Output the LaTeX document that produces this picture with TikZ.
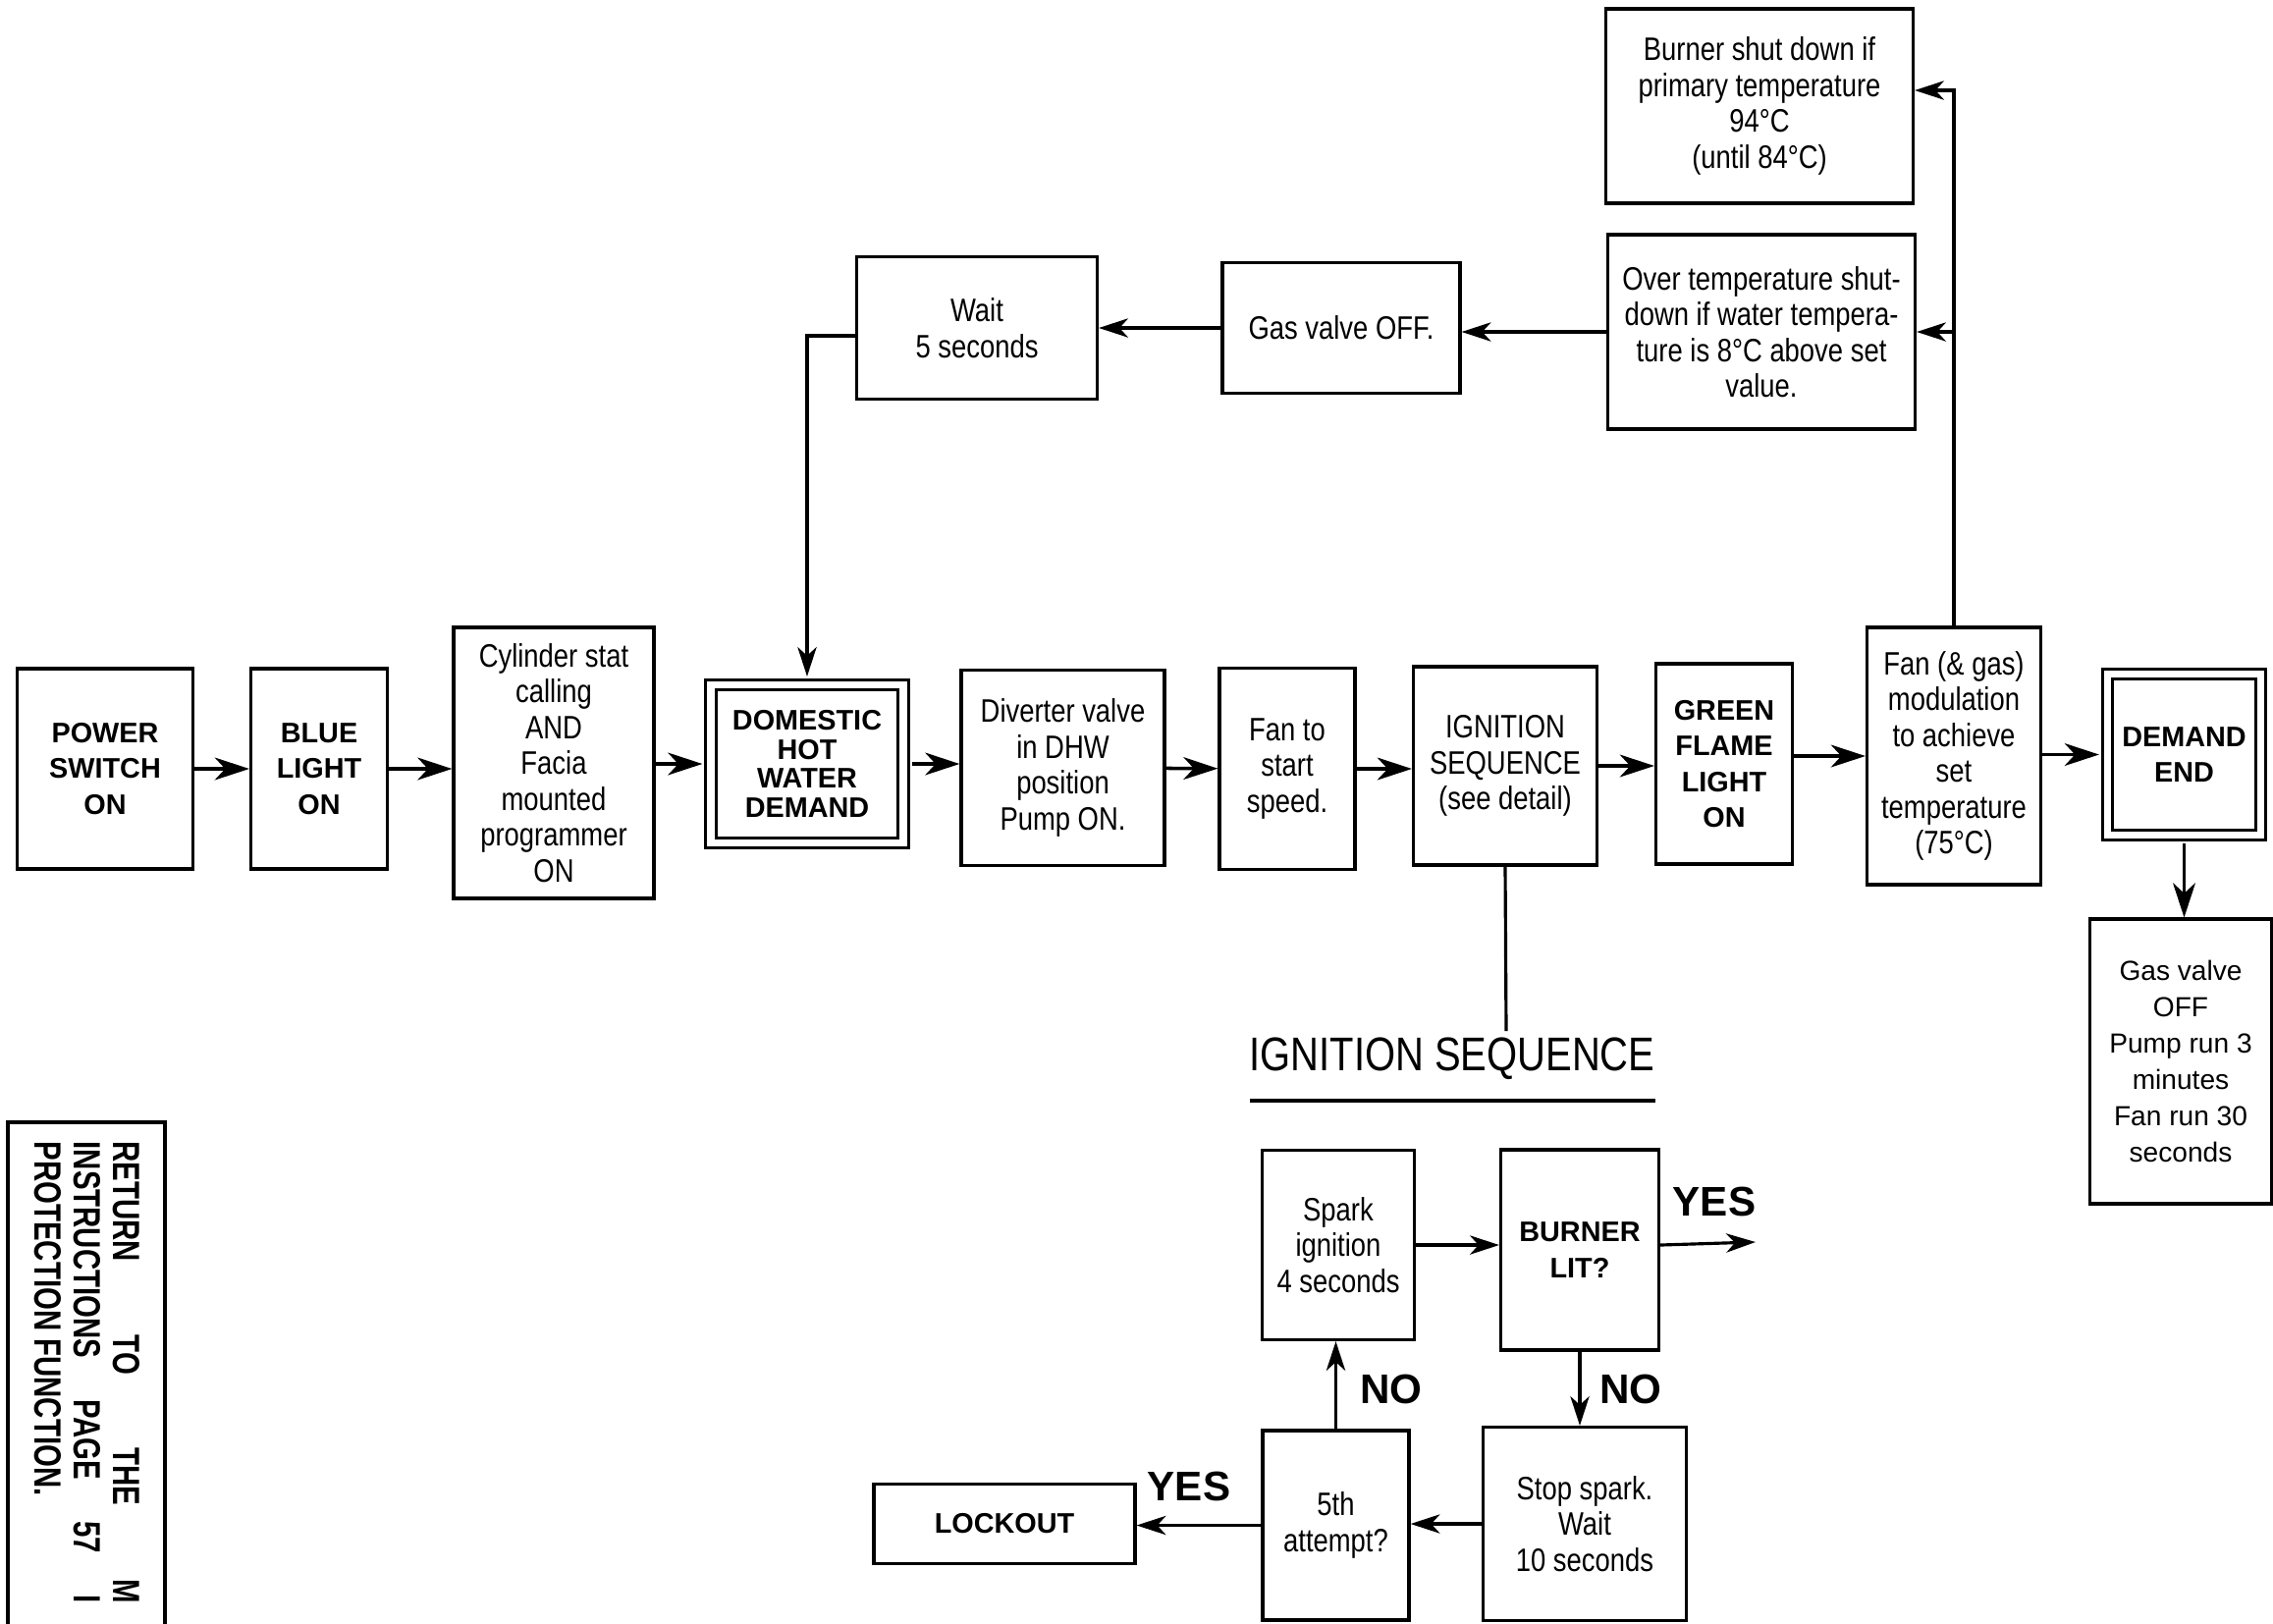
\documentclass[tikz,border=0pt]{standalone}
\usepackage{fontspec}
\setmainfont{Liberation Sans}
\newfontfamily\narrowfont{Liberation Sans}[FakeStretch=0.83]
\newfontfamily\notefont{Liberation Sans}[FakeStretch=0.76]
\usetikzlibrary{arrows.meta}

\begin{document}
\begin{tikzpicture}[
  box/.style={draw, line width=0.9pt, align=center, inner sep=1pt, font=\narrowfont\fontsize{9.4}{10.4}\selectfont},
  bbox/.style={box, font=\bfseries\fontsize{8.2}{10.4}\selectfont},
  dbox/.style={bbox, double, double distance=2pt},
  wh/.style 2 args={minimum width=#1cm, minimum height=#2cm},
  flow/.style={-{Stealth[length=10pt, width=6.5pt, inset=3pt]}, line width=1pt},
  link/.style={-{Stealth[length=8.5pt, width=5.5pt, inset=2.5pt]}, line width=0.9pt},
  tag/.style={font=\bfseries\fontsize{12}{12}\selectfont, inner sep=0pt}
]
  \useasboundingbox[fill=white] (0,0) rectangle (23.15,-16.53);

  % main sequence
  \node[bbox, wh={1.79}{2.04}] (power) at (1.07,-7.83) {POWER\\SWITCH\\ON};
  \node[bbox, wh={1.39}{2.04}] (blue) at (3.25,-7.83) {BLUE\\LIGHT\\ON};
  \node[box, wh={2.04}{2.76}] (cyl) at (5.64,-7.77) {Cylinder stat\\calling\\AND\\Facia\\mounted\\programmer\\ON};
  \node[dbox, wh={1.96}{1.61}, font=\bfseries\fontsize{8.2}{8.4}\selectfont] (dhw) at (8.22,-7.78) {DOMESTIC\\HOT\\WATER\\DEMAND};
  \node[box, wh={2.07}{1.99}] (diverter) at (10.825,-7.82) {Diverter valve\\in DHW\\position\\Pump ON.};
  \node[box, wh={1.38}{2.05}] (fanstart) at (13.11,-7.83) {Fan to\\start\\speed.};
  \node[box, wh={1.87}{2.02}] (ignbox) at (15.33,-7.80) {IGNITION\\SEQUENCE\\(see detail)};
  \node[bbox, wh={1.39}{2.04}] (green) at (17.56,-7.78) {GREEN\\FLAME\\LIGHT\\ON};
  \node[box, wh={1.77}{2.62}] (fanmod) at (19.90,-7.70) {Fan (\& gas)\\modulation\\to achieve\\set\\temperature\\(75°C)};
  \node[dbox, wh={1.56}{1.64}] (dend) at (22.245,-7.685) {DEMAND\\END};
  \node[box, wh={1.85}{2.90}, font=\fontsize{8}{10.5}\selectfont] (gasoff) at (22.21,-10.81) {Gas valve\\OFF\\Pump run 3\\minutes\\Fan run 30\\seconds};

  \draw[flow] (power) -- (blue);
  \draw[flow] (blue) -- (cyl.west |- blue.east);
  \draw[flow, shorten >=2pt] (cyl.east |- dhw.west) -- (dhw.west);
  \draw[flow] ([xshift=2pt]dhw.east) -- (dhw.east -| diverter.west);
  \draw[flow] (diverter) -- (fanstart);
  \draw[flow] (fanstart) -- (fanstart.east -| ignbox.west);
  \draw[flow] (ignbox) -- (ignbox.east -| green.west);
  \draw[flow] (fanmod.west -| green.east) -- (fanmod.west);
  \draw[flow, shorten >=2pt] (dend.west -| fanmod.east) -- (dend.west);
  \draw[flow] ([yshift=-2pt]dend.south) -- (dend.south |- gasoff.north);

  % over temperature branch
  \node[box, wh={3.13}{1.98}] (burner) at (17.92,-1.08) {Burner shut down if\\primary temperature\\94°C\\(until 84°C)};
  \node[box, wh={3.13}{1.98}] (overtemp) at (17.94,-3.38) {Over temperature shut-\\down if water tempera-\\ture is 8°C above set\\value.};
  \node[box, wh={2.42}{1.33}] (gasvalve) at (13.66,-3.34) {Gas valve OFF.};
  \node[box, wh={2.45}{1.45}] (wait) at (9.95,-3.34) {Wait\\5 seconds};

  \draw[link] (fanmod.north) |- ([yshift=0.16cm]burner.east);
  \draw[link] (fanmod.north |- overtemp.east) -- (overtemp.east);
  \draw[link] (overtemp.west) -- (overtemp.west -| gasvalve.east);
  \draw[link] (gasvalve.west) -- (gasvalve.west -| wait.east);
  \draw[link, shorten >=2pt] ([yshift=-0.08cm]wait.west) -| (dhw.north);

  % ignition sequence detail
  \coordinate (ignend) at (15.34,-10.50);
  \draw[line width=0.9pt] (ignbox.south) -- (ignend);
  \node[font=\narrowfont\fontsize{13.7}{13.7}\selectfont] (igntitle) at (14.79,-10.78) {IGNITION SEQUENCE};
  \draw[line width=1pt] (12.73,-11.21) -- (16.86,-11.21);

  \node[box, wh={1.55}{1.93}] (spark) at (13.63,-12.68) {Spark\\ignition\\4 seconds};
  \node[bbox, wh={1.61}{2.04}] (burnerlit) at (16.09,-12.73) {BURNER\\LIT?};
  \node[box, wh={2.07}{1.97}] (stopspark) at (16.14,-15.52) {Stop spark.\\Wait\\10 seconds};
  \node[box, wh={1.49}{1.93}] (fifth) at (13.605,-15.535) {5th\\attempt?};
  \node[bbox, wh={2.66}{0.81}] (lockout) at (10.23,-15.52) {LOCKOUT};
  \coordinate (yesend) at (17.88,-12.65);

  \draw[link] (spark.east) -- (spark.east -| burnerlit.west);
  \draw[link] (spark.east -| burnerlit.east) -- (yesend);
  \draw[link] (burnerlit.south) -- (burnerlit.south |- stopspark.north);
  \draw[link] (stopspark.west) -- (stopspark.west -| fifth.east);
  \draw[link] (fifth.west) -- (fifth.west -| lockout.east);
  \draw[link] (fifth.north) -- (fifth.north |- spark.south);

  \node[tag] (yes1) at (17.46,-12.24) {YES};
  \node[tag] (no1) at (16.61,-14.15) {NO};
  \node[tag] (no2) at (14.17,-14.15) {NO};
  \node[tag] (yes2) at (12.11,-15.14) {YES};

  % side note
  \node[draw, line width=0.9pt, wh={1.6}{6.1}] (noteframe) at (0.88,-14.48) {};
  \node[rotate=-90, anchor=north west, inner sep=0pt, align=left, font=\notefont\bfseries\fontsize{11}{11.4}\selectfont] (notetext) at (1.43,-11.62)
    {\makebox[4.7cm][l]{RETURN\hfill TO\hfill THE\hfill M}\\\makebox[4.7cm][l]{INSTRUCTIONS\hfill PAGE\hfill 57\hfill I}\\PROTECTION FUNCTION.};
\end{tikzpicture}
\end{document}
